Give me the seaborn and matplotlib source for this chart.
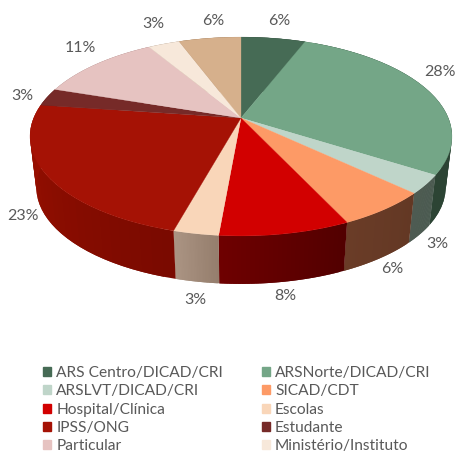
import numpy as np
import matplotlib.pyplot as plt
import seaborn as sns
from matplotlib.colors import to_rgb
from matplotlib.patches import Patch

sns.set_theme(style="white")
plt.rcParams['font.family'] = ['Lato', 'DejaVu Sans']

categories = ['ARS Centro/DICAD/CRI', 'ARSNorte/DICAD/CRI', 'ARSLVT/DICAD/CRI', 'SICAD/CDT',
              'Hospital/Clínica', 'Escolas', 'IPSS/ONG', 'Estudante', 'Particular',
              'Ministério/Instituto']
# last slice has no legend entry in the picture
shares = [5.9, 28.1, 3.0, 6.0, 8.4, 2.9, 22.9, 2.9, 11.3, 2.9, 5.7]

top_colors = ['#466b55', '#74a687', '#bfd5c9', '#fd9a66', '#d20000', '#f9d6b9',
              '#a51205', '#762a28', '#e6c3c1', '#f7e8da', '#d6b08c']
wall_start = ['#2c4434', '#2c4434', '#4a5a50', '#633824', '#520000', '#957e6d',
              '#7a0a00', '#5a1a18', '#a08080', '#a09080', '#907050']
wall_end = ['#2c4434', '#2c4434', '#4e5b52', '#6a3c27', '#6e0000', '#ab9483',
            '#9d1000', '#5a1a18', '#a08080', '#a09080', '#907050']

# label offset from the rim, in pixels
label_off = [(6, -17), (13, -18), (17, 10), (12, 11), (1, 14), (-2, 18),
             (-31, -10), (-25, -1), (-16, -16), (-11, -20), (3, -17)]
on_lower_rim = [False, False, True, True, True, True, True, False, False, False, False]

CX, CY = 241, 118
A, B, K = 207.3, 96, 0.186
DEPTH, SHRINK = 51.5, 0.97


def rim(t, lower=False):
    # t clockwise from the top, projected with perspective
    x, y = np.sin(t), np.cos(t)
    d = 1 + K * y
    s = SHRINK if lower else 1
    return CX + s * A * x / d, CY + (DEPTH if lower else 0) - s * B * y / d


fig = plt.figure(figsize=(4.57, 4.54), dpi=100)
ax = fig.add_axes([0, 0, 1, 1])
ax.set_xlim(0, 457)
ax.set_ylim(454, 0)
ax.axis('off')
sns.despine(ax=ax, left=True, bottom=True)

edges = np.cumsum([0] + shares) / sum(shares) * 2 * np.pi

# side wall, strip by strip so the shade can change along it
for i in range(len(shares)):
    ts = np.linspace(edges[i], edges[i + 1], 30)
    c0, c1 = np.array(to_rgb(wall_start[i])), np.array(to_rgb(wall_end[i]))
    for j in range(len(ts) - 1):
        # strips overlap the next one, hides the seams
        xu, yu = rim(ts[j:j + 3])
        xl, yl = rim(ts[j:j + 3], lower=True)
        col = c0 + (c1 - c0) * j / (len(ts) - 2)
        ax.fill(np.r_[xu, xl[::-1]], np.r_[yu, yl[::-1]], color=col, lw=0)

# top face
for i in range(len(shares)):
    ts = np.linspace(edges[i], edges[i + 1], 60)
    xs, ys = rim(ts)
    ax.fill(np.r_[CX, xs], np.r_[CY, ys], color=top_colors[i], lw=0.2)

for i, v in enumerate(shares):
    x, y = rim((edges[i] + edges[i + 1]) / 2, lower=on_lower_rim[i])
    dx, dy = label_off[i]
    ax.text(x + dx, y + dy, f'{round(v)}%', ha='center', va='center', fontsize=11.5, color='#595959')

handles = [Patch(color=c, label=n) for c, n in zip(top_colors, categories)]
order = handles[::2] + handles[1::2]
fig.legend(handles=order, ncol=2, loc='upper left', bbox_to_anchor=(0.094, 0.194), frameon=False,
           fontsize=11.2, labelcolor='#595959', handlelength=0.52, handleheight=0.52, handletextpad=0.33,
           columnspacing=2.5, labelspacing=0.28, borderpad=0, borderaxespad=0)

fig.savefig('out.png', dpi=100)
